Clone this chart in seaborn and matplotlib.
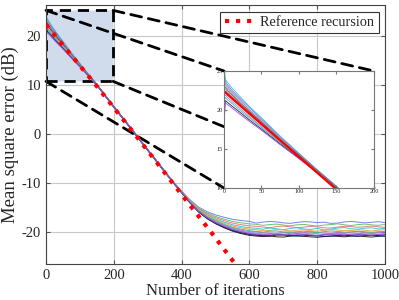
import numpy as np
import pandas as pd
import matplotlib
matplotlib.use("Agg")
import matplotlib.pyplot as plt
import matplotlib.patches as mpatches
from matplotlib.patches import ConnectionPatch
import seaborn as sns

# iteration index where each curve value was read
iters = [0, 2, 5, 10, 20, 35, 50, 75, 100, 125, 150, 200, 250, 300, 350,
         375, 400, 425, 450, 475, 500, 525, 550, 575, 600,
         620, 640, 660, 680, 700, 720, 740, 760, 780, 800,
         820, 840, 860, 880, 900, 920, 940, 960, 980, 1000]

# MSE learning curves (dB), one list per run
mse_runs = [
    [25.6, 23.9, 23.5, 22.9, 21.85, 20.35, 19.0, 16.65, 14.45, 12.3, 10.22, 5.7, 1.35, -3.1, -7.48,
     -9.78, -11.74, -13.69, -15.33, -16.45, -17.29, -17.93, -18.48, -18.84, -19.1,
     -19.2, -19.4, -19.15, -19.3, -19.5, -19.25, -19.1, -19.35, -19.45, -19.2,
     -19.55, -19.4, -19.15, -19.05, -19.3, -19.4, -19.2, -19.1, -19.35, -19.2],
    [24.6, 23.6, 23.2, 22.6, 21.6, 20.2, 18.85, 16.55, 14.4, 12.25, 10.2, 5.68, 1.33, -3.12, -7.5,
     -9.71, -11.58, -13.4, -14.87, -15.8, -16.47, -16.95, -17.37, -17.63, -17.8,
     -18.15, -17.95, -17.8, -17.9, -18.1, -18.2, -18.0, -17.85, -17.9, -18.05,
     -17.95, -18.2, -18.15, -17.9, -17.8, -17.95, -18.1, -18.0, -17.85, -18.05],
    [23.9, 23.3, 22.95, 22.4, 21.4, 19.95, 18.7, 16.45, 14.3, 12.2, 10.17, 5.66, 1.31, -3.14, -7.53,
     -9.82, -11.84, -13.87, -15.61, -16.85, -17.79, -18.53, -19.16, -19.58, -19.9,
     -19.9, -20.1, -20.2, -20.3, -20.05, -19.95, -20.15, -20.1, -19.9, -20.0,
     -20.2, -20.25, -20.05, -20.15, -20.0, -19.85, -20.1, -20.25, -20.05, -20.0],
    [23.4, 23.1, 22.75, 22.2, 21.2, 19.8, 18.55, 16.35, 14.25, 12.2, 10.15, 5.65, 1.3, -3.15, -7.55,
     -9.74, -11.64, -13.51, -15.05, -16.05, -16.78, -17.33, -17.8, -18.09, -18.3,
     -18.4, -18.6, -18.45, -18.35, -18.55, -18.7, -18.5, -18.4, -18.6, -18.75,
     -18.55, -18.45, -18.3, -18.5, -18.65, -18.45, -18.35, -18.5, -18.6, -18.4],
    [23.0, 22.85, 22.5, 22.0, 21.05, 19.7, 18.45, 16.25, 14.2, 12.15, 10.14, 5.63, 1.28, -3.17, -7.56,
     -9.84, -11.9, -13.98, -15.78, -17.1, -18.1, -18.9, -19.58, -20.04, -20.4,
     -20.5, -20.7, -20.65, -20.45, -20.6, -20.75, -20.55, -20.5, -20.7, -20.8,
     -20.6, -20.5, -20.65, -20.75, -20.6, -20.45, -20.55, -20.7, -20.6, -20.5],
    [22.7, 22.6, 22.3, 21.8, 20.9, 19.55, 18.3, 16.2, 14.15, 12.13, 10.12, 5.62, 1.27, -3.18, -7.58,
     -9.76, -11.69, -13.6, -15.19, -16.25, -17.03, -17.63, -18.14, -18.46, -18.7,
     -18.8, -18.95, -19.1, -18.85, -18.75, -18.9, -19.05, -19.0, -18.8, -18.9,
     -19.1, -19.15, -18.95, -18.8, -18.85, -19.0, -18.9, -18.75, -18.9, -19.0],
    [22.4, 22.4, 22.1, 21.6, 20.7, 19.4, 18.2, 16.1, 14.1, 12.1, 10.1, 5.6, 1.25, -3.2, -7.6,
     -9.85, -11.93, -14.03, -15.87, -17.23, -18.26, -19.09, -19.79, -20.28, -20.65,
     -20.8, -20.9, -20.75, -20.95, -21.0, -20.8, -20.7, -20.85, -20.95, -21.05,
     -20.9, -20.8, -20.85, -20.95, -20.8, -20.75, -20.9, -21.0, -20.85, -20.8],
    [22.1, 22.2, 21.9, 21.4, 20.55, 19.25, 18.1, 16.0, 14.05, 12.07, 10.08, 5.58, 1.23, -3.22, -7.62,
     -9.79, -11.78, -13.76, -15.43, -16.6, -17.47, -18.15, -18.73, -19.11, -19.4,
     -19.5, -19.7, -19.65, -19.45, -19.55, -19.75, -19.6, -19.5, -19.7, -19.8,
     -19.6, -19.45, -19.55, -19.7, -19.65, -19.5, -19.6, -19.75, -19.6, -19.5],
    [21.7, 21.9, 21.6, 21.15, 20.3, 19.05, 17.9, 15.9, 13.98, 12.03, 10.06, 5.56, 1.21, -3.24, -7.64,
     -9.83, -11.86, -13.91, -15.68, -16.95, -17.92, -18.68, -19.33, -19.77, -20.1,
     -20.2, -20.35, -20.45, -20.25, -20.15, -20.3, -20.4, -20.35, -20.2, -20.3,
     -20.5, -20.4, -20.25, -20.3, -20.45, -20.35, -20.2, -20.25, -20.4, -20.3],
    [21.2, 21.6, 21.3, 20.9, 20.05, 18.9, 17.75, 15.8, 13.9, 12.0, 10.03, 5.55, 1.2, -3.25, -7.67,
     -9.81, -11.81, -13.82, -15.54, -16.75, -17.66, -18.38, -18.99, -19.39, -19.7,
     -19.85, -20.0, -19.8, -19.75, -19.95, -20.05, -19.9, -19.8, -19.95, -20.1,
     -19.9, -19.75, -19.85, -20.0, -19.95, -19.8, -19.9, -20.05, -19.9, -19.85],
    [20.3, 21.2, 20.95, 20.55, 19.8, 18.65, 17.55, 15.65, 13.82, 11.95, 10.0, 5.52, 1.17, -3.28, -7.7,
     -9.85, -11.91, -14.0, -15.82, -17.15, -18.17, -18.98, -19.67, -20.14, -20.5,
     -20.65, -20.75, -20.85, -20.6, -20.55, -20.7, -20.8, -20.75, -20.6, -20.7,
     -20.9, -20.8, -20.65, -20.6, -20.75, -20.85, -20.7, -20.6, -20.7, -20.8],
    [18.5, 20.9, 20.7, 20.3, 19.55, 18.45, 17.4, 15.55, 13.75, 11.9, 9.98, 5.5, 1.15, -3.3, -7.72,
     -9.83, -11.88, -13.94, -15.73, -17.03, -18.01, -18.79, -19.45, -19.9, -20.25,
     -20.4, -20.5, -20.35, -20.55, -20.6, -20.45, -20.3, -20.45, -20.55, -20.65,
     -20.5, -20.4, -20.45, -20.55, -20.4, -20.35, -20.5, -20.6, -20.45, -20.4],
]

run_colors = ["#3fc4d4", "#6a86f0", "#c868c8", "#70c070", "#3a56a8", "#e08080",
              "#2a2a2a", "#e6a848", "#8a8aff", "#50b890", "#202060", "#a050d0"]

# reference recursion (dB)
ref_iters = [0, 150, 262, 400, 487, 600]
ref_mse = [22.4, 9.8, 0.0, -12.3, -20.0, -30.3]

rows = []
for k, run in enumerate(mse_runs):
    for it, v in zip(iters, run):
        rows.append({"run": k, "iteration": it, "mse": v})
df = pd.DataFrame(rows)
ref_df = pd.DataFrame({"iteration": ref_iters, "mse": ref_mse})

sns.set_style("ticks")
plt.rcParams['font.family'] = ['Liberation Serif', 'DejaVu Serif']
plt.rcParams['axes.unicode_minus'] = False

fig = plt.figure(figsize=(3.99, 3.0), dpi=100)
ax = fig.add_axes([0.1153, 0.12, 0.8496, 0.8633])

ax.grid(True, color="#c8c8c8", lw=0.8)
ax.set_axisbelow(True)

zoom_box = mpatches.Rectangle((0, 10.8), 198, 14.5, facecolor="#d0dcec",
                              edgecolor="black", ls=(0, (4, 2.5)), lw=2, zorder=1)
ax.add_patch(zoom_box)

sns.lineplot(data=df, x="iteration", y="mse", hue="run", palette=run_colors,
             estimator=None, lw=0.7, legend=False, ax=ax, zorder=2)
sns.lineplot(data=ref_df, x="iteration", y="mse", color="red", lw=3,
             linestyle=":", ax=ax, zorder=3, label="Reference recursion")

ax.set_xlim(0, 1000)
ax.set_ylim(-26.5, 26.4)
ax.set_xticks([0, 200, 400, 600, 800, 1000])
ax.set_yticks([-20, -10, 0, 10, 20])
ax.tick_params(direction="in", top=True, right=True, length=3, labelsize=10.5,
               color="#555555")
for s in ax.spines.values():
    s.set_color("#444444")
    s.set_linewidth(0.8)
ax.set_xlabel("Number of iterations", fontsize=12, labelpad=1)
ax.set_ylabel("Mean square error (dB)", fontsize=13.5, labelpad=2)

leg = ax.legend(loc="upper right", bbox_to_anchor=(0.99, 0.985), fontsize=10.3,
                frameon=True, fancybox=False, handlelength=2.0, borderpad=0.3,
                borderaxespad=0.2, handletextpad=0.5)
leg.get_frame().set_edgecolor("black")
leg.get_frame().set_linewidth(0.8)

# inset zoom
axins = fig.add_axes([0.5614, 0.3733, 0.3759, 0.39])
axins.set_facecolor("white")
sns.lineplot(data=df, x="iteration", y="mse", hue="run", palette=run_colors,
             estimator=None, lw=0.6, legend=False, ax=axins)
sns.lineplot(data=ref_df, x="iteration", y="mse", color="red", lw=1.6, ax=axins)
axins.set_xlim(0, 200)
axins.set_ylim(10, 25)
axins.set_xticks([0, 50, 100, 150, 200])
axins.set_yticks([10, 15, 20, 25])
axins.tick_params(direction="in", top=True, right=True, length=2, labelsize=4.5,
                  pad=1, color="#777777")
axins.set_xlabel("")
axins.set_ylabel("")
for s in axins.spines.values():
    s.set_color("#777777")
    s.set_linewidth(0.8)

for xa, ya, xb, yb in [(0, 25.3, 0, 1), (198, 25.3, 1, 1),
                       (0, 10.8, 0, 0), (198, 10.8, 1, 0)]:
    con = ConnectionPatch(xyA=(xa, ya), coordsA=ax.transData,
                          xyB=(xb, yb), coordsB=axins.transAxes,
                          color="black", lw=2, ls=(0, (4, 2.5)), clip_on=False)
    ax.add_artist(con)

fig.savefig("out.png", dpi=100)
